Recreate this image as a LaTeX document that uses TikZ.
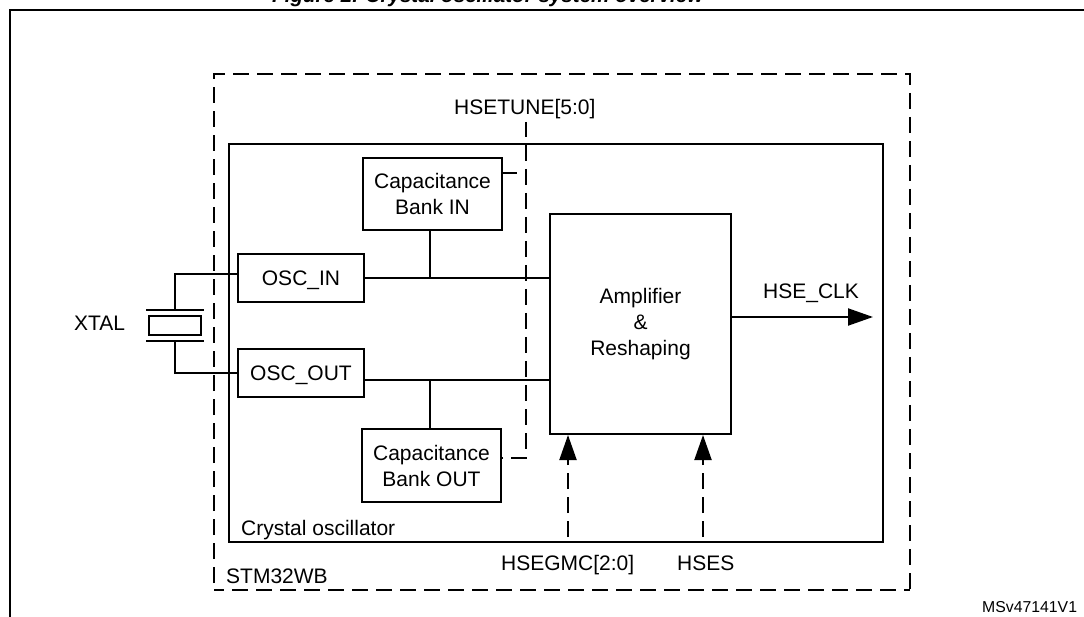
\documentclass[tikz,border=0pt]{standalone}
\usepackage{fontspec}
\setmainfont{Liberation Sans}
\usetikzlibrary{arrows.meta}
\tikzset{
  box/.style={draw=black,line width=2pt,fill=none,inner sep=0pt,align=center,font=\fontsize{21}{26}\selectfont},
  wire/.style={draw=black,line width=2pt},
  dashline/.style={draw=black,line width=2pt,dash pattern=on 16pt off 8pt},
  lbl/.style={inner sep=0pt,anchor=base west,font=\fontsize{21}{26}\selectfont},
  head/.style={-{Triangle[length=25pt,width=17pt]}}
}
\begin{document}
\begin{tikzpicture}[x=1pt,y=-1pt]
\useasboundingbox (0,0) rectangle (1084,617);
\clip (0,0) rectangle (1084,617);
% page frame
\coordinate (fa) at (10,617);
\coordinate (fb) at (10,10);
\coordinate (fc) at (1084,10);
\draw[black,line width=2.3pt] (fa) -- (fb) -- (fc);
\node[inner sep=0pt,anchor=base west,font=\fontsize{20.6}{26}\selectfont\bfseries\itshape] (title) at (272,3) {Figure 2. Crystal oscillator system overview};
% outer dashed and inner solid boxes
\node[rectangle,inner sep=0pt,outer sep=0pt,minimum width=696pt,minimum height=516pt] (chip) at (562,332) {};
\draw[dashline,dash phase=17pt] (chip.south west) -- (chip.north west) -- (chip.north east) -- (chip.south east);
\draw[dashline,dash phase=6pt] (chip.south west) -- (chip.south east);
\node[box,minimum width=654pt,minimum height=398pt] (osc) at (556,343) {};
% blocks
\node[box,minimum width=139pt,minimum height=72pt] (capin) at (432.5,194) {Capacitance\\Bank IN};
\node[box,minimum width=126pt,minimum height=48pt] (oscin) at (301,278) {\rule{0pt}{19pt}OSC\_IN};
\node[box,minimum width=126pt,minimum height=48pt] (oscout) at (301,373) {\rule{0pt}{19pt}OSC\_OUT};
\node[box,minimum width=139pt,minimum height=73pt] (capout) at (431.5,465.5) {Capacitance\\Bank OUT};
\node[box,minimum width=181pt,minimum height=220pt] (amp) at (640.5,324) {Amplifier\\\&\\Reshaping};
% crystal
\node[box,minimum width=52pt,minimum height=19pt] (xtal) at (175,325.5) {};
\coordinate (pta) at (146,310); \coordinate (ptb) at (204,310);
\coordinate (pba) at (146,341); \coordinate (pbb) at (204,341);
\coordinate (ptm) at (175,310); \coordinate (pbm) at (175,341);
\draw[wire] (pta) -- (ptb);
\draw[wire] (pba) -- (pbb);
\coordinate (ci) at (238,274); \coordinate (cit) at (175,274);
\coordinate (co) at (238,373); \coordinate (cot) at (175,373);
\draw[wire] (ptm) -- (cit) -- (ci);
\draw[wire] (pbm) -- (cot) -- (co);
% signal wires
\coordinate (ampi) at (550,278);
\coordinate (ampo) at (550,380);
\coordinate (oi) at (364,278);
\coordinate (oo) at (364,380);
\coordinate (ji) at (430,278);
\coordinate (jo) at (430,380);
\coordinate (cib) at (430,230);
\coordinate (cot2) at (430,429);
\draw[wire] (oi) -- (ampi);
\draw[wire] (oo) -- (ampo);
\draw[wire] (ji) -- (cib);
\draw[wire] (jo) -- (cot2);
% HSETUNE
\coordinate (tunetop) at (526,122);
\coordinate (tunecor) at (526,458);
\coordinate (tuneout) at (502,458);
\coordinate (tunein) at (526,173);
\coordinate (tuneinb) at (502,173);
\draw[dashline,dash phase=1pt] (tunetop) -- (tunecor) -- (tuneout);
\draw[dashline,dash phase=1pt] (tuneinb) -- (tunein);
% outputs and control inputs
\coordinate (clka) at (731,317); \coordinate (clkb) at (873,317);
\draw[wire,head] (clka) -- (clkb);
\coordinate (gmca) at (568,537); \coordinate (gmcb) at (568,435);
\coordinate (hsa) at (703,537); \coordinate (hsb) at (703,435);
\draw[dashline,head] (gmca) -- (gmcb);
\draw[dashline,head] (hsa) -- (hsb);
% labels
\node[lbl] (tune) at (454,115) {HSETUNE[5:0]};
\node[lbl] (xt) at (74,331) {XTAL};
\node[lbl] (clk) at (763,299) {HSE\_CLK};
\node[lbl] (cry) at (241,535.7) {Crystal oscillator};
\node[lbl] (stm) at (226,583) {STM32WB};
\node[lbl] (gmc) at (501,570.7) {HSEGMC[2:0]};
\node[lbl] (hses) at (677,570.7) {HSES};
\node[inner sep=0pt,anchor=base west,font=\fontsize{15.8}{18}\selectfont] (ver) at (982,612) {MSv47141V1};
\end{tikzpicture}
\end{document}
